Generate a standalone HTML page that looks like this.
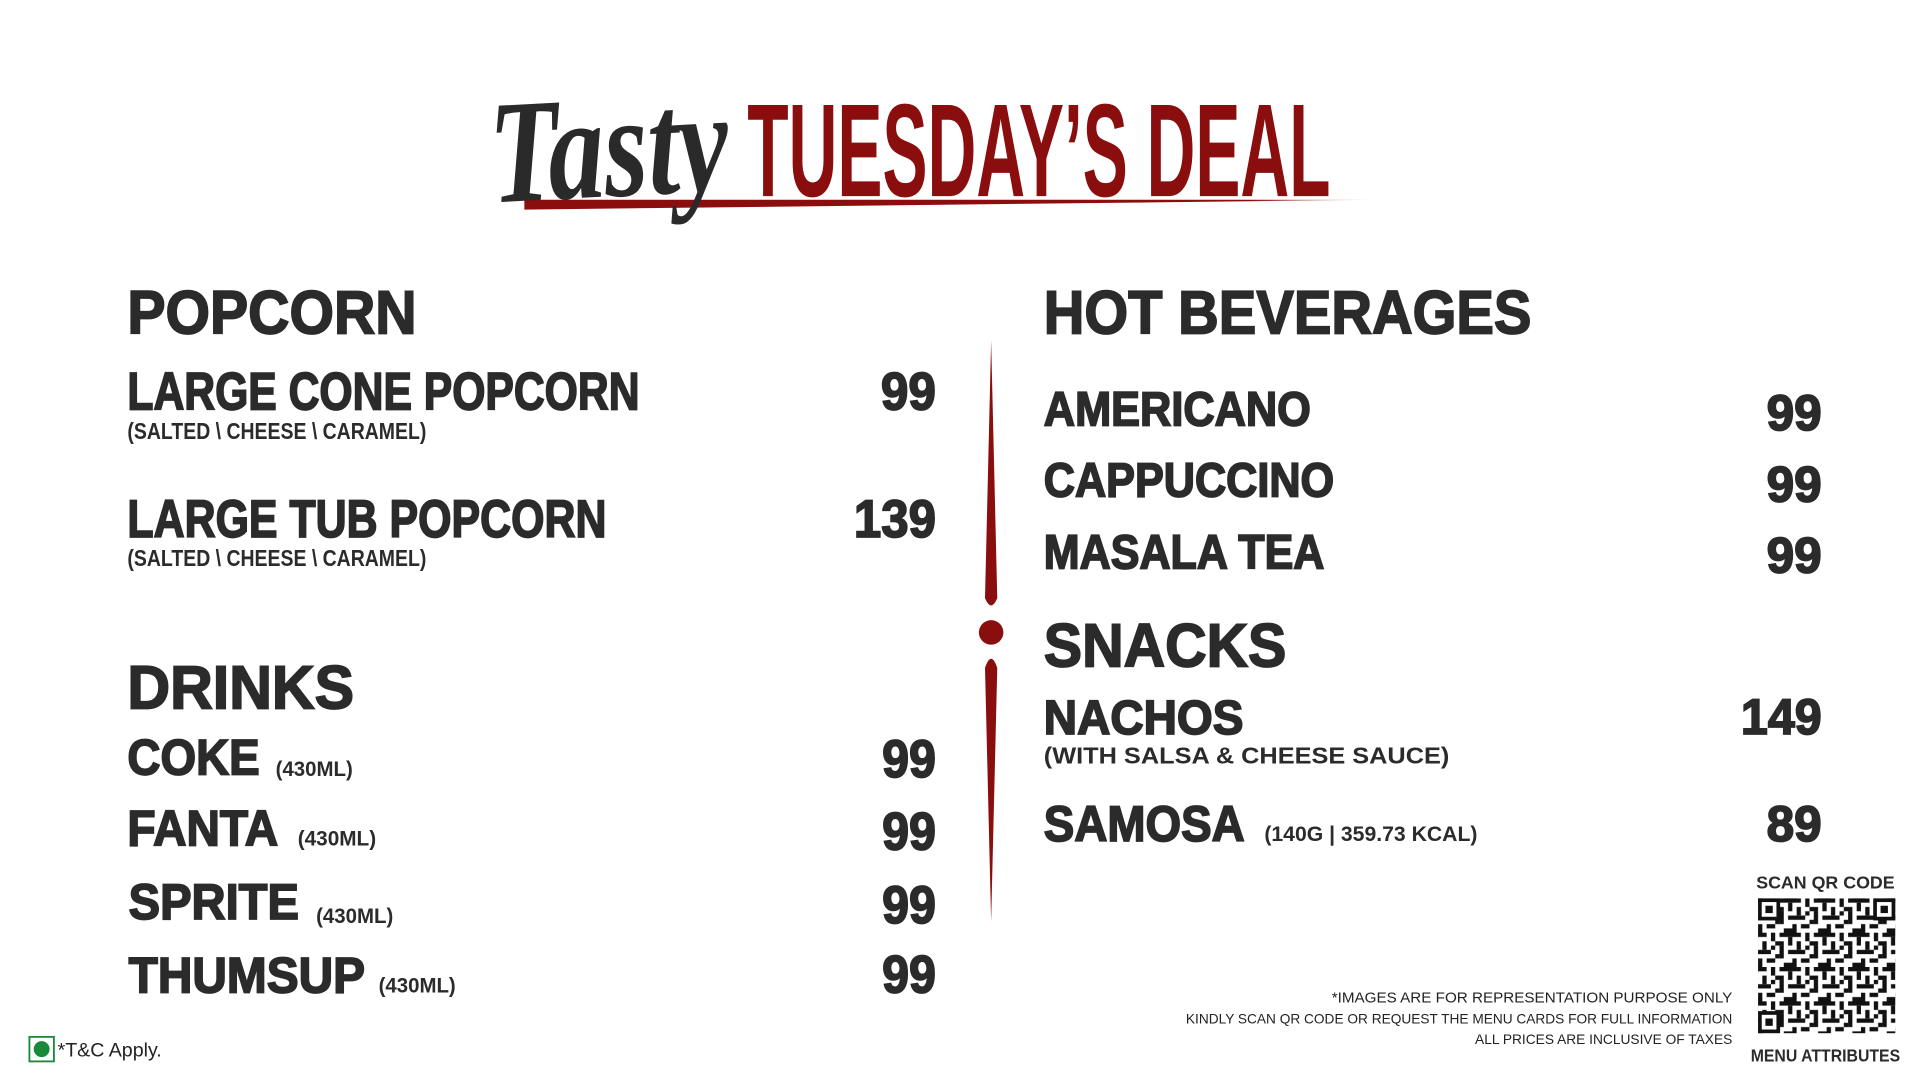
<!DOCTYPE html>
<html><head><meta charset="utf-8"><style>
html,body{margin:0;padding:0;background:#fff;overflow:hidden}
svg{display:block}
.h{font-family:"Liberation Sans",sans-serif;font-weight:bold;fill:#2b2b2b;stroke:#2b2b2b;stroke-width:1.4}
.s{font-family:"Liberation Sans",sans-serif;font-weight:bold;fill:#2b2b2b}
.f{font-family:"Liberation Sans",sans-serif;fill:#222}
</style></head><body>
<svg width="1921" height="1081" viewBox="0 0 1568 882" preserveAspectRatio="none" xmlns="http://www.w3.org/2000/svg">
<defs>
<linearGradient id="ul" x1="0" x2="1"><stop offset="0" stop-color="#8b0e0e"/><stop offset="0.85" stop-color="#8b0e0e"/><stop offset="1" stop-color="#8b0e0e" stop-opacity="0"/></linearGradient>
<pattern id="qr" x="1435" y="733" width="28" height="28" patternUnits="userSpaceOnUse">
<rect width="28" height="28" fill="#fff"/>
<g fill="#111">
<rect x="0" y="0" width="7" height="3.5"/><rect x="10.5" y="0" width="3.5" height="7"/><rect x="17.5" y="0" width="10.5" height="3.5"/>
<rect x="3.5" y="7" width="3.5" height="7"/><rect x="14" y="7" width="7" height="3.5"/><rect x="24.5" y="3.5" width="3.5" height="7"/>
<rect x="0" y="14" width="10.5" height="3.5"/><rect x="17.5" y="10.5" width="3.5" height="10.5"/><rect x="24.5" y="14" width="3.5" height="3.5"/>
<rect x="7" y="21" width="7" height="3.5"/><rect x="0" y="21" width="3.5" height="7"/><rect x="21" y="24.5" width="7" height="3.5"/><rect x="14" y="17.5" width="3.5" height="3.5"/><rect x="10.5" y="10.5" width="3.5" height="3.5"/>
</g></pattern>
</defs>
<polygon points="428,163 1125,163 428,171" fill="url(#ul)"/>
<text x="400" y="160" font-family="'Liberation Serif',serif" font-style="italic" font-weight="bold" font-size="120" fill="#2a2a2a" textLength="195" lengthAdjust="spacingAndGlyphs" transform="rotate(-3 500 130)">Tasty</text>
<text x="610" y="160" font-family="'Liberation Sans Narrow','Liberation Sans',sans-serif" font-weight="bold" font-size="108" fill="#8b0e0e" textLength="476" lengthAdjust="spacingAndGlyphs">TUESDAY’S DEAL</text>
<path d="M809,278 L814,488 Q809,500 804,488 Z" fill="#8b0e0e"/>
<circle cx="809" cy="516" r="10" fill="#8b0e0e"/>
<path d="M804,545 Q809,530 814,545 L809,752 Z" fill="#8b0e0e"/>
<text class="h" x="104" y="272" font-size="50" textLength="236" lengthAdjust="spacingAndGlyphs">POPCORN</text>
<text class="h" x="104" y="334" font-size="43" textLength="418" lengthAdjust="spacingAndGlyphs">LARGE CONE POPCORN</text>
<text class="h" x="719" y="334" font-size="43" textLength="45" lengthAdjust="spacingAndGlyphs">99</text>
<text class="s" x="104" y="358" font-size="19" textLength="244" lengthAdjust="spacingAndGlyphs">(SALTED \ CHEESE \ CARAMEL)</text>
<text class="h" x="104" y="438" font-size="43" textLength="391" lengthAdjust="spacingAndGlyphs">LARGE TUB POPCORN</text>
<text class="h" x="697" y="438" font-size="43" textLength="67" lengthAdjust="spacingAndGlyphs">139</text>
<text class="s" x="104" y="462" font-size="19" textLength="244" lengthAdjust="spacingAndGlyphs">(SALTED \ CHEESE \ CARAMEL)</text>
<text class="h" x="104" y="578" font-size="50" textLength="185" lengthAdjust="spacingAndGlyphs">DRINKS</text>
<text class="h" x="104" y="632" font-size="41" textLength="108" lengthAdjust="spacingAndGlyphs">COKE</text>
<text class="s" x="225" y="633" font-size="17" textLength="63" lengthAdjust="spacingAndGlyphs">(430ML)</text>
<text class="h" x="720" y="634" font-size="43" textLength="44" lengthAdjust="spacingAndGlyphs">99</text>
<text class="h" x="104" y="690" font-size="41" textLength="123" lengthAdjust="spacingAndGlyphs">FANTA</text>
<text class="s" x="243" y="690" font-size="17" textLength="64" lengthAdjust="spacingAndGlyphs">(430ML)</text>
<text class="h" x="720" y="693" font-size="43" textLength="44" lengthAdjust="spacingAndGlyphs">99</text>
<text class="h" x="105" y="750" font-size="41" textLength="139" lengthAdjust="spacingAndGlyphs">SPRITE</text>
<text class="s" x="258" y="753" font-size="17" textLength="63" lengthAdjust="spacingAndGlyphs">(430ML)</text>
<text class="h" x="720" y="753" font-size="43" textLength="44" lengthAdjust="spacingAndGlyphs">99</text>
<text class="h" x="105" y="810" font-size="41" textLength="193" lengthAdjust="spacingAndGlyphs">THUMSUP</text>
<text class="s" x="309" y="810" font-size="17" textLength="63" lengthAdjust="spacingAndGlyphs">(430ML)</text>
<text class="h" x="720" y="810" font-size="43" textLength="44" lengthAdjust="spacingAndGlyphs">99</text>
<text class="h" x="852" y="272" font-size="50" textLength="398" lengthAdjust="spacingAndGlyphs">HOT BEVERAGES</text>
<text class="h" x="852" y="347" font-size="39" textLength="218" lengthAdjust="spacingAndGlyphs">AMERICANO</text>
<text class="h" x="1442" y="351" font-size="41" textLength="45" lengthAdjust="spacingAndGlyphs">99</text>
<text class="h" x="852" y="405" font-size="39" textLength="237" lengthAdjust="spacingAndGlyphs">CAPPUCCINO</text>
<text class="h" x="1442" y="409" font-size="41" textLength="45" lengthAdjust="spacingAndGlyphs">99</text>
<text class="h" x="852" y="464" font-size="39" textLength="229" lengthAdjust="spacingAndGlyphs">MASALA TEA</text>
<text class="h" x="1442" y="467" font-size="41" textLength="45" lengthAdjust="spacingAndGlyphs">99</text>
<text class="h" x="852" y="544" font-size="50" textLength="198" lengthAdjust="spacingAndGlyphs">SNACKS</text>
<text class="h" x="852" y="599" font-size="39" textLength="163" lengthAdjust="spacingAndGlyphs">NACHOS</text>
<text class="h" x="1421" y="599" font-size="41" textLength="66" lengthAdjust="spacingAndGlyphs">149</text>
<text class="s" x="852" y="623" font-size="19" textLength="331" lengthAdjust="spacingAndGlyphs">(WITH SALSA &amp; CHEESE SAUCE)</text>
<text class="h" x="852" y="686" font-size="41" textLength="164" lengthAdjust="spacingAndGlyphs">SAMOSA</text>
<text class="s" x="1032" y="686" font-size="17" textLength="174" lengthAdjust="spacingAndGlyphs">(140G | 359.73 KCAL)</text>
<text class="h" x="1442" y="686" font-size="41" textLength="45" lengthAdjust="spacingAndGlyphs">89</text>
<text class="f" x="1414" y="818" font-size="12" text-anchor="end" textLength="327" lengthAdjust="spacingAndGlyphs">*IMAGES ARE FOR REPRESENTATION PURPOSE ONLY</text>
<text class="f" x="1414" y="835" font-size="11" text-anchor="end" textLength="446" lengthAdjust="spacingAndGlyphs">KINDLY SCAN QR CODE OR REQUEST THE MENU CARDS FOR FULL INFORMATION</text>
<text class="f" x="1414" y="852" font-size="11" text-anchor="end" textLength="210" lengthAdjust="spacingAndGlyphs">ALL PRICES ARE INCLUSIVE OF TAXES</text>
<text class="s" x="1490" y="725" font-size="14" text-anchor="middle" fill="#333" textLength="113" lengthAdjust="spacingAndGlyphs">SCAN QR CODE</text>
<text class="s" x="1490" y="866" font-size="14" text-anchor="middle" fill="#333" textLength="122" lengthAdjust="spacingAndGlyphs">MENU ATTRIBUTES</text>
<rect x="1435" y="733" width="112" height="110" fill="url(#qr)"/>
<g fill="#111">
<rect x="1435" y="733" width="18" height="18"/><rect x="1438" y="736" width="12" height="12" fill="#fff"/><rect x="1441" y="739" width="6" height="6"/>
<rect x="1529" y="733" width="18" height="18"/><rect x="1532" y="736" width="12" height="12" fill="#fff"/><rect x="1535" y="739" width="6" height="6"/>
<rect x="1435" y="825" width="18" height="18"/><rect x="1438" y="828" width="12" height="12" fill="#fff"/><rect x="1441" y="831" width="6" height="6"/>
</g>
<rect x="24" y="846" width="20" height="20" fill="none" stroke="#1a8a3a" stroke-width="1.5"/>
<circle cx="34" cy="856" r="6.5" fill="#1a8a3a"/>
<text class="f" x="47" y="862" font-size="16">*T&amp;C Apply.</text>
</svg>
</body></html>
